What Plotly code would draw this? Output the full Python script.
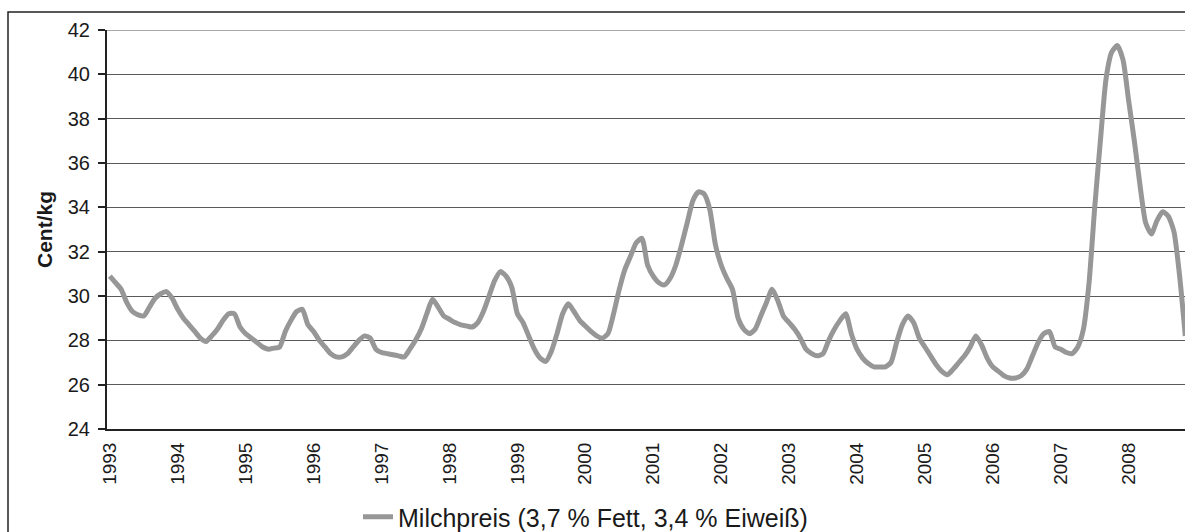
import plotly.graph_objects as go

# Monthly milk price (Cent/kg), Jan 1993 ... Nov 2008 (chart cut off at right edge)
years = [str(y) for y in range(1993, 2009)]
p1993 = [30.9, 30.6, 30.3, 29.7, 29.3, 29.15, 29.1, 29.5, 29.9, 30.1, 30.2, 29.9]
p1994 = [29.4, 29.0, 28.7, 28.4, 28.1, 27.95, 28.2, 28.5, 28.9, 29.2, 29.2, 28.6]
p1995 = [28.3, 28.1, 27.9, 27.7, 27.6, 27.65, 27.7, 28.4, 28.9, 29.3, 29.4, 28.7]
p1996 = [28.4, 28.0, 27.7, 27.4, 27.25, 27.25, 27.4, 27.7, 28.0, 28.2, 28.1, 27.6]
p1997 = [27.45, 27.4, 27.35, 27.3, 27.25, 27.6, 28.0, 28.5, 29.2, 29.85, 29.5, 29.1]
p1998 = [28.95, 28.8, 28.7, 28.65, 28.6, 28.8, 29.3, 30.0, 30.7, 31.1, 30.9, 30.4]
p1999 = [29.2, 28.8, 28.2, 27.6, 27.2, 27.05, 27.5, 28.3, 29.2, 29.65, 29.3, 28.9]
p2000 = [28.65, 28.4, 28.2, 28.1, 28.3, 29.2, 30.3, 31.2, 31.8, 32.4, 32.6, 31.4]
p2001 = [30.9, 30.6, 30.5, 30.8, 31.4, 32.3, 33.3, 34.3, 34.7, 34.6, 33.9, 32.3]
p2002 = [31.4, 30.8, 30.3, 29.0, 28.5, 28.3, 28.5, 29.1, 29.7, 30.3, 29.8, 29.1]
p2003 = [28.8, 28.5, 28.1, 27.6, 27.4, 27.3, 27.4, 28.0, 28.5, 28.9, 29.2, 28.3]
p2004 = [27.6, 27.2, 26.95, 26.8, 26.8, 26.8, 27.0, 27.9, 28.7, 29.1, 28.8, 28.1]
p2005 = [27.7, 27.3, 26.9, 26.6, 26.45, 26.7, 27.0, 27.3, 27.7, 28.2, 27.8, 27.2]
p2006 = [26.8, 26.6, 26.4, 26.3, 26.3, 26.4, 26.7, 27.3, 27.9, 28.3, 28.4, 27.7]
p2007 = [27.6, 27.45, 27.4, 27.7, 28.5, 30.6, 34.0, 37.0, 39.8, 41.0, 41.3, 40.65]
p2008 = [38.8, 37.0, 35.0, 33.3, 32.8, 33.4, 33.8, 33.6, 32.9, 30.9, 28.2]

values = (p1993 + p1994 + p1995 + p1996 + p1997 + p1998 + p1999 + p2000 +
          p2001 + p2002 + p2003 + p2004 + p2005 + p2006 + p2007 + p2008)
months = list(range(len(values)))
tick_pos = [12 * k for k in range(len(years))]
y_ticks = [24, 26, 28, 30, 32, 34, 36, 38, 40, 42]

FONT = "Liberation Sans, Arial, sans-serif"

fig = go.Figure()
fig.add_trace(go.Scatter(
    x=months, y=values, mode="lines",
    name="Milchpreis (3,7 % Fett, 3,4 % Eiweiß)",
    line=dict(color="#979797", width=5, shape="spline", smoothing=0.6),
))

W, H = 1185, 532
L, R, T, B = 107, 0, 30, 103
pw, ph = W - L - R, H - T - B

def px_x(p):
    return (p - L) / pw

def px_y(p):
    return (H - B - p) / ph

fig.update_layout(
    width=W, height=H,
    margin=dict(l=L, r=R, t=T, b=B, autoexpand=False),
    paper_bgcolor="white", plot_bgcolor="white",
    font=dict(family=FONT, color="#1a1a1a"),
    showlegend=True,
    legend=dict(
        x=px_x(358), y=px_y(517), xanchor="left", yanchor="middle",
        font=dict(size=25, family=FONT, color="#1a1a1a"),
        bgcolor="rgba(0,0,0,0)",
    ),
    xaxis=dict(
        range=[-0.5, 189.95], automargin=False,
        tickmode="array", tickvals=tick_pos, ticktext=years,
        tickangle=-90, tickfont=dict(size=19),
        showgrid=False, zeroline=False,
        showline=True, linecolor="#222", linewidth=2,
        ticks="outside", ticklen=4, tickcolor="rgba(0,0,0,0)",
    ),
    yaxis=dict(
        range=[24, 42], automargin=False,
        tickmode="array", tickvals=y_ticks,
        tickfont=dict(size=20),
        showgrid=True, gridcolor="#5a5a5a", gridwidth=1,
        zeroline=False,
        showline=True, linecolor="#222", linewidth=2,
        ticks="outside", ticklen=7, tickcolor="#222", tickwidth=1.5,
        ticklabelstandoff=4,
        title=dict(text="<b>Cent/kg</b>", font=dict(size=21), standoff=9),
    ),
    shapes=[
        # top border of plot area (textured grey line at 42)
        dict(type="line", xref="x", yref="y", x0=-0.5, x1=189.95, y0=42, y1=42,
             line=dict(color="#a8a8a8", width=2)),
        # outer chart frame
        dict(type="rect", xref="paper", yref="paper",
             x0=px_x(8), x1=px_x(1200), y0=px_y(540), y1=px_y(12),
             line=dict(color="#222", width=1.5), layer="below"),
    ],
)

fig.write_html(
    "out.html",
    config={"displayModeBar": False},
    post_script="document.body.style.margin='0';document.body.style.overflow='hidden';",
)
